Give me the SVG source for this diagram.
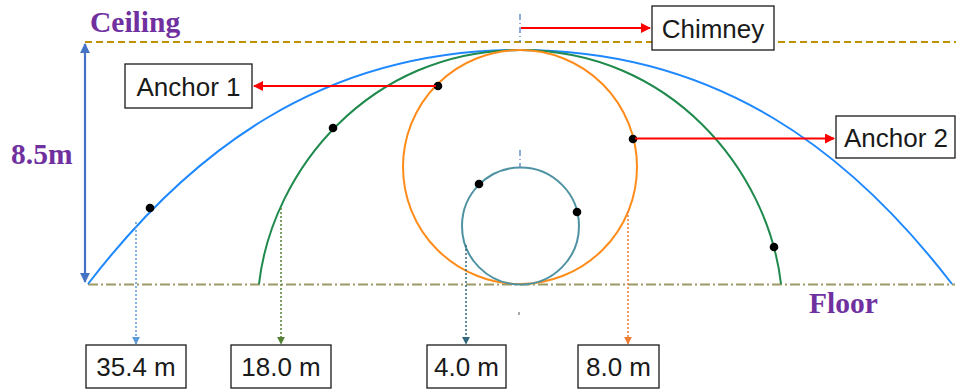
<svg xmlns="http://www.w3.org/2000/svg" width="956" height="389" viewBox="0 0 956 389">
<defs>
<style>
.lbl{font-family:"Liberation Sans",Arial,sans-serif;font-size:26px;fill:#1a1a1a;text-anchor:middle}
.ttl{font-family:"Liberation Serif","Times New Roman",serif;font-size:29.5px;font-weight:bold;fill:#7030A0}
.box{fill:#fff;stroke:#1a1a1a;stroke-width:1.3}
.dot{fill:#000}
.red{stroke:#FF0000;stroke-width:2;fill:none}
.cen{stroke:#4472C4;stroke-width:1.2;stroke-dasharray:6 3 1 3;fill:none}
.dotted{stroke-width:1.5;stroke-dasharray:2 2;fill:none}
</style>
<marker id="ar" viewBox="0 0 10 10" refX="9" refY="5" markerWidth="5" markerHeight="5" orient="auto-start-reverse"><path d="M0,0L10,5L0,10z" fill="#FF0000"/></marker>
<marker id="ab" viewBox="0 0 10 10" refX="9" refY="5" markerWidth="4.5" markerHeight="4.5" orient="auto-start-reverse"><path d="M0,0L10,5L0,10z" fill="#4472C4"/></marker>
<marker id="m1" viewBox="0 0 10 10" refX="9" refY="5" markerWidth="5.5" markerHeight="5.5" orient="auto"><path d="M0,0L10,5L0,10z" fill="#5B9BD5"/></marker>
<marker id="m2" viewBox="0 0 10 10" refX="9" refY="5" markerWidth="5.5" markerHeight="5.5" orient="auto"><path d="M0,0L10,5L0,10z" fill="#548235"/></marker>
<marker id="m3" viewBox="0 0 10 10" refX="9" refY="5" markerWidth="5.5" markerHeight="5.5" orient="auto"><path d="M0,0L10,5L0,10z" fill="#31687E"/></marker>
<marker id="m4" viewBox="0 0 10 10" refX="9" refY="5" markerWidth="5.5" markerHeight="5.5" orient="auto"><path d="M0,0L10,5L0,10z" fill="#ED7D31"/></marker>
</defs>

<g id="reference-lines">
<line x1="85" y1="42" x2="956" y2="42" stroke="#BF9000" stroke-width="2.2" stroke-dasharray="7 4"/>
<line x1="88" y1="284.5" x2="955" y2="284.5" stroke="#9C9A66" stroke-width="2" stroke-dasharray="10 3 2 3"/>
<line x1="85" y1="44" x2="85" y2="282" stroke="#4472C4" stroke-width="2.2" marker-start="url(#ab)" marker-end="url(#ab)"/>
<line class="cen" x1="520" y1="14" x2="520" y2="42"/>
<line class="cen" x1="520" y1="150" x2="520" y2="168"/>
<line x1="519" y1="312" x2="519" y2="315" stroke="#555" stroke-width="1"/>
</g>

<g id="shapes">
<path id="blue-arc" d="M88,284 C188,154 320,50 520,50 C720,50 852,154 952,284" fill="none" stroke="#1E88FF" stroke-width="2"/>
<path id="green-arc" d="M259,284 C272,170 370,50 520,50 C670,50 768,170 781,284" fill="none" stroke="#1E8A4C" stroke-width="2"/>
<circle id="orange-circle" cx="520" cy="167" r="117" fill="none" stroke="#FF8C1A" stroke-width="2"/>
<circle id="teal-circle" cx="520.5" cy="226" r="58.5" fill="none" stroke="#4F93A3" stroke-width="2"/>
</g>

<g id="anchors">
<circle class="dot" cx="438" cy="86" r="4.3"/>
<circle class="dot" cx="333" cy="128" r="4.3"/>
<circle class="dot" cx="150" cy="208" r="4.3"/>
<circle class="dot" cx="633" cy="139" r="4.3"/>
<circle class="dot" cx="479" cy="184" r="4.3"/>
<circle class="dot" cx="577" cy="212" r="4.3"/>
<circle class="dot" cx="774" cy="247" r="4.3"/>
</g>

<g id="connectors">
<line class="red" x1="521" y1="28" x2="650" y2="28" marker-end="url(#ar)"/>
<line class="red" x1="436" y1="86" x2="254" y2="86" marker-end="url(#ar)"/>
<line class="red" x1="635" y1="138.5" x2="834" y2="138.5" marker-end="url(#ar)"/>
<line class="dotted" x1="136" y1="222" x2="136" y2="344" stroke="#5B9BD5" marker-end="url(#m1)"/>
<line class="dotted" x1="281" y1="208" x2="281" y2="344" stroke="#548235" marker-end="url(#m2)"/>
<line class="dotted" x1="466" y1="245" x2="466" y2="344" stroke="#31687E" marker-end="url(#m3)"/>
<line class="dotted" x1="628" y1="211" x2="628" y2="344" stroke="#ED7D31" marker-end="url(#m4)"/>
</g>

<g id="titles">
<text class="ttl" x="90" y="32">Ceiling</text>
<text class="ttl" x="11" y="164">8.5m</text>
<text class="ttl" x="809" y="313">Floor</text>
</g>

<g id="chimney"><rect class="box" x="652" y="6" width="122" height="44"/><text class="lbl" x="713" y="38">Chimney</text></g>
<g id="anchor1"><rect class="box" x="125" y="64" width="127" height="44"/><text class="lbl" x="188.5" y="96">Anchor 1</text></g>
<g id="anchor2"><rect class="box" x="836" y="116" width="119" height="42"/><text class="lbl" x="896" y="147">Anchor 2</text></g>
<g id="d354"><rect class="box" x="86" y="345" width="100" height="43"/><text class="lbl" x="136" y="376">35.4 m</text></g>
<g id="d180"><rect class="box" x="231" y="345" width="100" height="43"/><text class="lbl" x="281" y="376">18.0 m</text></g>
<g id="d40"><rect class="box" x="427" y="345" width="79" height="43"/><text class="lbl" x="466.5" y="376">4.0 m</text></g>
<g id="d80"><rect class="box" x="578" y="345" width="81" height="43"/><text class="lbl" x="618.5" y="376">8.0 m</text></g>
</svg>
